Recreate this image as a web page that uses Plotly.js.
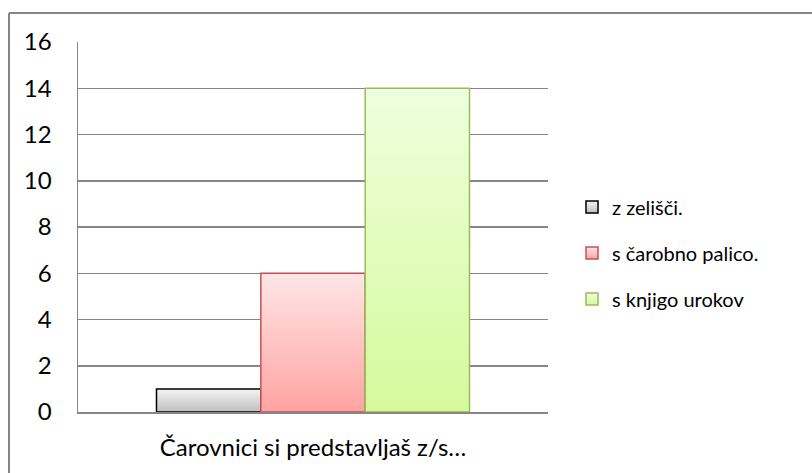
<!DOCTYPE html>
<html>
<head>
<meta charset="utf-8">
<script src="https://cdn.plot.ly/plotly-3.0.1.min.js"></script>
<style>
html,body{margin:0;padding:0;background:#fff;}
#chart{width:812px;height:473px;}
</style>
</head>
<body>
<div id="chart"></div>
<script>
const categories = ["Čarovnici si predstavljaš z/s…"];
const seriesNames = ["z zelišči.", "s čarobno palico.", "s knjigo urokov"];
const seriesValues = [[1], [6], [14]];
const yTicks = [0, 2, 4, 6, 8, 10, 12, 14, 16];

const lineColors = ["#000000", "#c9504f", "#9bbb59"];
const midColors = ["#d8d8d8", "#ffc4c4", "#e2fbbb"];
const gradStops = [
  ["#f4f4f4", "#bfbfbf"],
  ["#ffe6e6", "#ffa3a3"],
  ["#eeffde", "#d6f99c"]
];

const FONT = "Lato, 'Open Sans', sans-serif";
const FS = 24;
const LFS = 20;

const traces = seriesNames.map((name, i) => ({
  type: "bar",
  name: name,
  x: categories,
  y: seriesValues[i],
  legendgroup: "g" + i,
  marker: {color: midColors[i], line: {color: lineColors[i], width: 1.5}},
  hoverinfo: "none"
}));

const L = 78, R = 548, T = 42, B = 412, W = 812, H = 473;
const pw = R - L, ph = B - T;
const bx = (9 - L) / pw, by = (B - 13) / ph;

const layout = {
  width: W, height: H,
  margin: {l: L, r: W - R, t: T, b: H - B, pad: 0},
  paper_bgcolor: "rgba(0,0,0,0)",
  plot_bgcolor: "rgba(0,0,0,0)",
  font: {family: FONT, size: FS, color: "#000"},
  barmode: "group",
  bargap: 0.334,
  bargroupgap: 0,
  showlegend: true,
  legend: {
    x: (572 - L) / pw, xanchor: "left",
    y: (B - 253) / ph, yanchor: "middle",
    traceorder: "grouped",
    tracegroupgap: 17,
    font: {family: FONT, size: LFS, color: "#000"},
    bgcolor: "rgba(0,0,0,0)",
    itemclick: false
  },
  xaxis: {
    showline: true, linecolor: "#868686", linewidth: 1.5,
    showgrid: false, ticks: "", ticklabelstandoff: 14,
    tickfont: {family: FONT, size: FS, color: "#000"},
    fixedrange: true
  },
  yaxis: {
    range: [0, 16], tickvals: yTicks, ticktext: yTicks.map(String),
    showline: true, linecolor: "#868686", linewidth: 1.5,
    showgrid: true, gridcolor: "#868686", gridwidth: 1.5,
    zeroline: false, ticks: "", ticklabelstandoff: 20,
    tickfont: {family: FONT, size: FS, color: "#000"},
    fixedrange: true
  },
  shapes: [
    {type: "line", xref: "paper", yref: "paper", x0: bx, x1: 3, y0: by, y1: by, line: {color: "#868686", width: 2}},
    {type: "line", xref: "paper", yref: "paper", x0: bx, x1: bx, y0: by, y1: -1, line: {color: "#868686", width: 2}}
  ]
};

Plotly.newPlot("chart", traces, layout, {displayModeBar: false, staticPlot: true}).then(gd => {
  const svg = gd.querySelector("svg.main-svg");
  const ns = "http://www.w3.org/2000/svg";
  let defs = svg.querySelector("defs");
  if (!defs) { defs = document.createElementNS(ns, "defs"); svg.insertBefore(defs, svg.firstChild); }
  gradStops.forEach((st, i) => {
    const g = document.createElementNS(ns, "linearGradient");
    g.setAttribute("id", "bargrad" + i);
    g.setAttribute("x1", "0"); g.setAttribute("y1", "0");
    g.setAttribute("x2", "0"); g.setAttribute("y2", "1");
    [[0, st[0]], [1, st[1]]].forEach(([o, c]) => {
      const s = document.createElementNS(ns, "stop");
      s.setAttribute("offset", o); s.setAttribute("stop-color", c);
      g.appendChild(s);
    });
    defs.appendChild(g);
  });
  gd.querySelectorAll(".barlayer .trace.bars").forEach((tr, i) => {
    tr.querySelectorAll(".point path").forEach(p => { p.style.fill = "url(#bargrad" + i + ")"; });
  });
  gd.querySelectorAll(".legend .traces").forEach((tr, i) => {
    tr.querySelectorAll(".legendpoints path").forEach(p => { p.style.fill = "url(#bargrad" + i + ")"; });
  });
});
</script>
</body>
</html>
